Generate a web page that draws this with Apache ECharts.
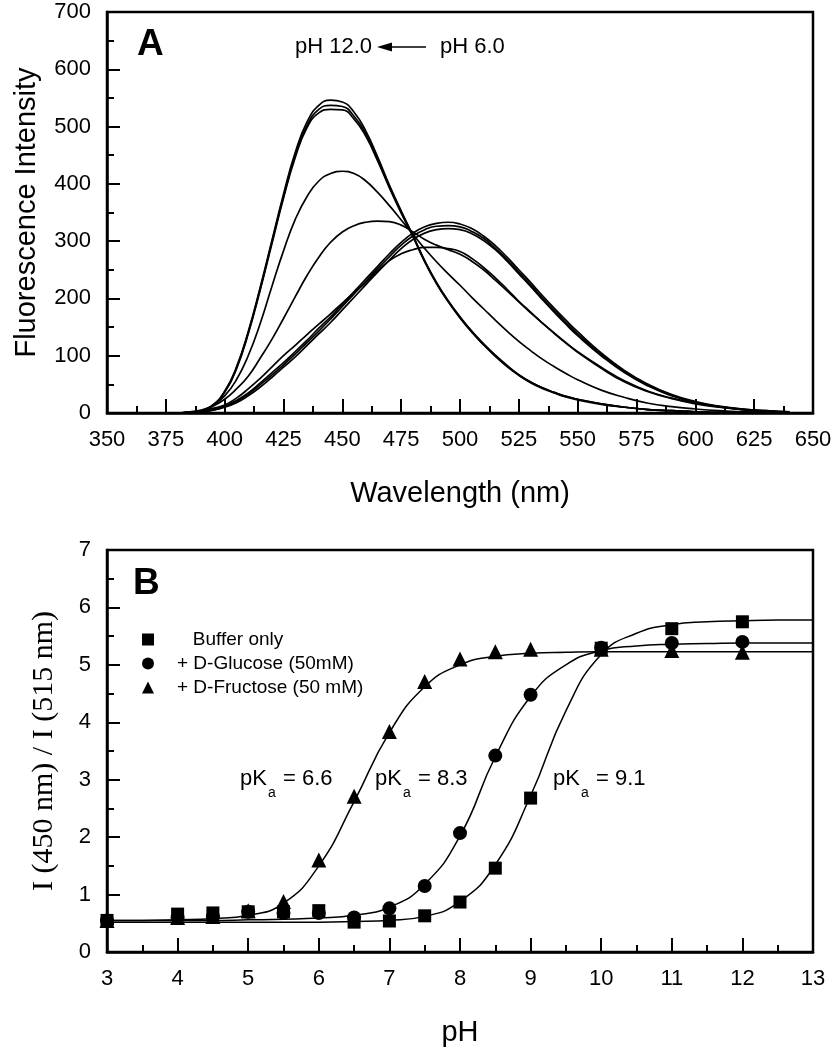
<!DOCTYPE html>
<html><head><meta charset="utf-8">
<script src="https://cdn.jsdelivr.net/npm/echarts/dist/echarts.min.js"></script>
<style>html,body{margin:0;padding:0;background:#fff}#c{width:835px;height:1050px}</style>
</head><body><div id="c"></div>
<script>
// ---------- Panel A: emission spectra (pH 12.0 -> pH 6.0) ----------
const wavelengths = [350,360,370,380,385,390,395,400,405,410,415,420,425,430,435,440,445,450,455,460,465,470,475,480,485,490,495,500,505,510,515,520,525,530,535,540,545,550,560,570,580,590,600,610,620,630,640];
const specBasic1 = [0,0,0,0,1,3,14,38,80,142,218,300,382,455,508,537,546,543,525,492,447,398,353,310,266,228,196,168,143,121,101,83,67,54,44,36,29,24,16,10,6,4,2,1,1,0,0];
const specBasic2 = [0,0,0,0,1,3,13,37,78,140,215,297,378,450,502,530,537,535,518,487,443,395,351,309,265,227,195,167,142,120,100,82,66,54,44,36,29,24,16,10,6,4,2,1,1,0,0];
const specBasic3 = [0,0,0,0,1,3,13,36,77,138,213,294,375,446,498,524,530,529,513,483,440,393,349,308,264,226,194,166,141,119,99,81,66,53,43,35,28,23,15,10,6,4,2,1,1,0,0];
const specMid1   = [0,0,0,0,1,4,14,30,58,100,155,220,283,338,378,405,418,422,418,405,385,362,337,312,287,264,243,223,202,182,162,143,125,109,94,81,69,58,40,27,17,11,7,4,2,1,0];
const specMid2   = [0,0,0,0,2,5,12,24,42,64,95,128,165,203,240,272,298,316,327,333,335,334,328,316,303,293,285,277,265,250,232,213,194,175,157,140,123,107,80,56,38,26,17,11,6,3,1];
const specMid3   = [0,0,0,0,1,3,8,14,26,42,60,80,100,118,137,155,173,192,210,228,248,266,278,285,289,289,287,282,270,254,236,216,195,176,157,139,122,106,78,54,37,25,16,10,6,3,1];
const specAcid1  = [0,0,0,0,1,2,6,12,22,35,52,70,88,107,127,148,168,190,212,234,256,278,298,314,325,331,333,330,322,309,292,272,250,228,205,183,162,142,105,74,50,32,20,12,7,4,2];
const specAcid2  = [0,0,0,0,1,2,5,11,20,33,49,66,84,103,123,143,164,186,208,230,252,273,293,309,320,326,327,325,317,305,288,268,246,224,201,179,158,138,102,72,48,31,19,11,7,4,2];
const specAcid3  = [0,0,0,0,1,2,5,10,18,30,45,62,80,98,118,138,158,180,202,224,246,267,287,303,314,320,322,320,313,301,285,265,243,221,198,176,155,135,100,70,47,30,18,11,6,3,2];
const spectra = [specBasic1, specBasic2, specBasic3, specMid1, specMid2, specMid3, specAcid1, specAcid2, specAcid3];

// ---------- Panel B: ratio vs pH ----------
const phPoints   = [3, 4, 4.5, 5, 5.5, 6, 6.5, 7, 7.5, 8, 8.5, 9, 10, 11, 12];
const bufferOnly = [0.55,0.66,0.68,0.70,0.70,0.72,0.52,0.54,0.63,0.87,1.46,2.68,5.29,5.63,5.75];
const glucose    = [0.55,0.60,0.62,0.70,0.68,0.68,0.60,0.76,1.15,2.07,3.42,4.48,5.30,5.38,5.40];
const fructose   = [0.55,0.60,0.62,0.72,0.88,1.60,2.71,3.84,4.71,5.10,5.23,5.27,5.27,5.25,5.22];

const fitPH       = [3,3.5,4,4.5,5,5.5,6,6.5,7,7.5,8,8.5,9,9.5,10,10.5,11,11.5,12,12.5,13];
const fitBuffer   = [0.52,0.52,0.52,0.52,0.52,0.52,0.52,0.53,0.55,0.62,0.88,1.52,2.72,4.20,5.18,5.55,5.70,5.75,5.77,5.78,5.78];
const fitGlucose  = [0.55,0.55,0.55,0.55,0.56,0.57,0.59,0.64,0.78,1.18,2.02,3.40,4.45,5.00,5.25,5.33,5.36,5.37,5.38,5.38,5.38];
const fitFructose = [0.55,0.55,0.56,0.58,0.64,0.85,1.50,2.62,3.82,4.62,5.00,5.15,5.20,5.22,5.23,5.23,5.23,5.23,5.23,5.23,5.23];

const legendNames = ['Buffer only', '+ D-Glucose (50mM)', '+ D-Fructose (50 mM)'];
const pkaLabels = ['6.6', '8.3', '9.1'];

const SANS = "'Liberation Sans', Arial, Helvetica, sans-serif";
const SERIF = "'Liberation Serif', 'Times New Roman', serif";
const BLACK = '#000';

function axisCommon(extra) {
  return Object.assign({
    type: 'value',
    axisLine: { show: true, onZero: false, lineStyle: { color: BLACK, width: 2.5 } },
    axisTick: { show: true, inside: true, length: 14, lineStyle: { color: BLACK, width: 2 } },
    minorTick: { show: true, splitNumber: 2, length: 7, lineStyle: { color: BLACK, width: 2 } },
    splitLine: { show: false },
    minorSplitLine: { show: false },
    axisLabel: { color: BLACK, fontSize: 22, fontFamily: SANS, margin: 16, showMinLabel: true, showMaxLabel: true },
    nameLocation: 'middle',
    nameMoveOverlap: false,
    nameTextStyle: { color: BLACK, fontSize: 29, fontFamily: SANS }
  }, extra);
}

const series = [];
spectra.forEach(function (s, k) {
  series.push({
    type: 'line', xAxisIndex: 0, yAxisIndex: 0, name: 'spec' + k,
    data: wavelengths.map(function (w, i) { return [w, s[i]]; }),
    showSymbol: false, smooth: 0.5, silent: true,
    lineStyle: { color: BLACK, width: 1.7 }
  });
});
[fitBuffer, fitGlucose, fitFructose].forEach(function (f, k) {
  series.push({
    type: 'line', xAxisIndex: 1, yAxisIndex: 1, name: 'fit' + k,
    data: fitPH.map(function (p, i) { return [p, f[i]]; }),
    showSymbol: false, smooth: 0.5, silent: true,
    lineStyle: { color: BLACK, width: 1.5 }, z: 2
  });
});
const markerDefs = [
  { name: legendNames[2], vals: fructose, symbol: 'triangle', size: 15 },
  { name: legendNames[1], vals: glucose, symbol: 'circle', size: 14 },
  { name: legendNames[0], vals: bufferOnly, symbol: 'rect', size: 13 }
];
markerDefs.forEach(function (m) {
  series.push({
    type: 'scatter', xAxisIndex: 1, yAxisIndex: 1, name: m.name,
    data: phPoints.map(function (p, i) { return [p, m.vals[i]]; }),
    symbol: m.symbol, symbolSize: m.size, silent: true,
    itemStyle: { color: BLACK, opacity: 1 }, z: 3
  });
});

function pkaGroup(x0, label) {
  return {
    type: 'group', x: x0, y: 779,
    children: [
      { type: 'text', x: 0, y: 0, style: { text: 'pK', font: '22px ' + SANS, fill: BLACK, verticalAlign: 'middle', align: 'left' } },
      { type: 'text', x: 28, y: 14, style: { text: 'a', font: '14px ' + SANS, fill: BLACK, verticalAlign: 'middle', align: 'left' } },
      { type: 'text', x: 43, y: 0, style: { text: '= ' + label, font: '22px ' + SANS, fill: BLACK, verticalAlign: 'middle', align: 'left' } }
    ]
  };
}

const option = {
  animation: false,
  backgroundColor: '#fff',
  grid: [
    { left: 107, top: 12, width: 706, height: 401, show: true, borderColor: BLACK, borderWidth: 2.5, containLabel: false, outerBoundsMode: 'none' },
    { left: 107, top: 550, width: 706, height: 402, show: true, borderColor: BLACK, borderWidth: 2.5, containLabel: false, outerBoundsMode: 'none' }
  ],
  xAxis: [
    axisCommon({ gridIndex: 0, min: 350, max: 650, interval: 25, name: 'Wavelength (nm)', nameGap: 66 }),
    axisCommon({ gridIndex: 1, min: 3, max: 13, interval: 1, name: 'pH', nameGap: 66 })
  ],
  yAxis: [
    axisCommon({ gridIndex: 0, min: 0, max: 700, interval: 100, name: 'Fluorescence Intensity', nameGap: 66,
      axisTick: { show: true, inside: true, length: 13, lineStyle: { color: BLACK, width: 2 } } }),
    axisCommon({ gridIndex: 1, min: 0, max: 7, interval: 1, name: 'I (450 nm) / I (515 nm)', nameGap: 48,
      axisTick: { show: true, inside: true, length: 13, lineStyle: { color: BLACK, width: 2 } },
      nameTextStyle: { color: BLACK, fontSize: 30, fontFamily: SERIF } })
  ],
  legend: {
    data: legendNames,
    orient: 'vertical', left: 142, top: 630, padding: 0,
    itemWidth: 12, itemHeight: 12, itemGap: 5,
    selectedMode: false,
    formatter: function (n) { return n === legendNames[0] ? '   ' + n : n; },
    textStyle: { color: BLACK, fontSize: 19, fontFamily: SANS, lineHeight: 19, padding: [0, 0, 0, 18] }
  },
  graphic: [
    { type: 'text', x: 137, y: 45, style: { text: 'A', font: 'bold 37px ' + SANS, fill: BLACK, verticalAlign: 'middle' } },
    { type: 'text', x: 295, y: 47, style: { text: 'pH 12.0', font: '22px ' + SANS, fill: BLACK, verticalAlign: 'middle' } },
    { type: 'line', shape: { x1: 388, y1: 47, x2: 426, y2: 47 }, style: { stroke: BLACK, lineWidth: 1.6 } },
    { type: 'polygon', shape: { points: [[377, 47], [392, 42.5], [392, 51.5]] }, style: { fill: BLACK } },
    { type: 'text', x: 440, y: 47, style: { text: 'pH 6.0', font: '22px ' + SANS, fill: BLACK, verticalAlign: 'middle' } },
    { type: 'text', x: 133, y: 584, style: { text: 'B', font: 'bold 37px ' + SANS, fill: BLACK, verticalAlign: 'middle' } },
    pkaGroup(240, pkaLabels[0]),
    pkaGroup(375, pkaLabels[1]),
    pkaGroup(553, pkaLabels[2])
  ],
  series: series
};

const chart = echarts.init(document.getElementById('c'), null, { renderer: 'canvas' });
chart.setOption(option);
</script>
</body></html>
